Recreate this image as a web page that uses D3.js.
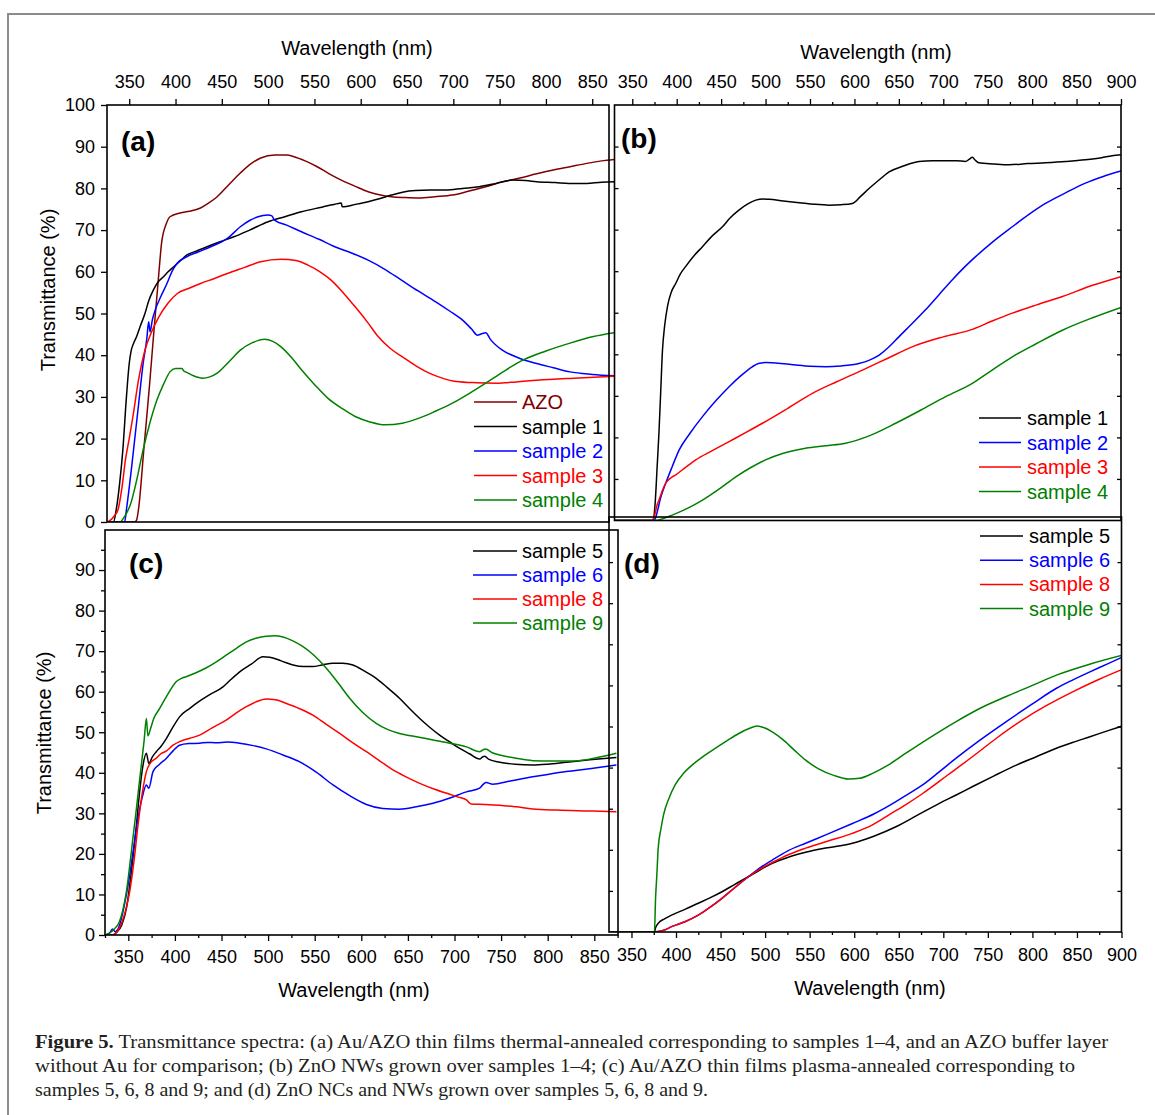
<!DOCTYPE html>
<html>
<head>
<meta charset="utf-8">
<script src="https://cdn.jsdelivr.net/npm/d3@7"></script>
<style>
  body { margin: 0; background: #fff; }
  svg text { font-family: "Liberation Sans", Arial, sans-serif; fill: #000; }
  .tick text { font-size: 18px; }
  .tick line { stroke: #000; stroke-width: 1.3; }
  .frame { fill: none; stroke: #000; stroke-width: 1.6; }
  .series { fill: none; stroke-width: 1.5; stroke-linejoin: round; }
  .axis-title { font-size: 20px; }
  .legend-text { font-size: 20px; }
  .panel-label { font-size: 28px; font-weight: bold; }
  svg text.caption { font-family: "Liberation Serif", "DejaVu Serif", serif; font-size: 18px; fill: #231f20; }
</style>
</head>
<body>
<svg id="fig" width="1155" height="1115"></svg>
<script>
// --- Figure 5: transmittance spectra, four panels (a)-(d) ---

// tick labels
const nmTicksA = [350, 400, 450, 500, 550, 600, 650, 700, 750, 800, 850];
const nmTicksB = [350, 400, 450, 500, 550, 600, 650, 700, 750, 800, 850, 900];
const nmMinorB = [375, 425, 475, 525, 575, 625, 675, 725, 775, 825, 875];
const nmMinorC = [325, 375, 425, 475, 525, 575, 625, 675, 725, 775, 825, 875];
const tTicksA = [0, 10, 20, 30, 40, 50, 60, 70, 80, 90, 100];
const tTicksC = [0, 10, 20, 30, 40, 50, 60, 70, 80, 90];
const tMinorC = [5, 15, 25, 35, 45, 55, 65, 75, 85, 95];
const tInner = [10, 20, 30, 40, 50, 60, 70, 80, 90];

// (a) Au/AZO thermal-annealed, [wavelength nm, T %]
const azoA = [[326,0],[356,0],[358,0.5],[360,3],[366,18],[372,33],[376,44],[381,57],[385,67],[390,71.5],[394,73.2],[405,74.1],[415,74.5],[427,75.3],[436,76.5],[445,78],[458,81],[470,83.7],[482,86],[492,87.3],[507,88],[520,88],[528,87.6],[540,86.6],[553,85.2],[566,83.5],[579,82],[594,80.5],[608,79.2],[620,78.5],[633,78],[648,77.8],[663,77.7],[680,78],[699,78.4],[716,79.3],[735,80.4],[752,81.5],[772,82.5],[790,83.5],[808,84.4],[826,85.2],[844,86],[860,86.6],[876,87]];
const sample1A = [[326,0],[333,0],[336,3],[340,10],[343,17],[347,30],[350,38],[352,41],[355,43],[358,44.5],[362,47],[367,50],[371,53],[376,55.6],[381,57.5],[387,58.8],[392,60],[398,61.2],[405,62.6],[412,64],[423,65],[434,66],[448,67.2],[463,68.4],[480,70],[500,72],[518,73.2],[536,74.4],[558,75.5],[576,76.4],[579,76.5],[580,75.6],[595,76.2],[608,76.8],[620,77.5],[633,78.4],[645,79.1],[659,79.5],[675,79.6],[692,79.6],[710,80],[728,80.4],[746,81.2],[764,82],[778,81.9],[790,81.6],[810,81.4],[825,81.2],[844,81.2],[860,81.5],[880,81.6]];
const sample2A = [[326,0],[345,0],[347,3],[352,12],[356,20],[360,28],[365,38],[369,44],[371,48],[372.5,45.6],[375,48.5],[378,50.8],[384,54],[391,57.3],[396,60],[402,62.1],[412,63.6],[425,64.8],[438,66],[456,68],[470,70.8],[480,72.3],[489,73.2],[500,73.6],[504,73.4],[507,72.4],[520,71.2],[536,69.6],[555,67.8],[572,66],[590,64.5],[608,62.8],[626,60.6],[644,58],[662,55.4],[681,52.8],[696,50.6],[710,48.4],[720,46.2],[726,44.8],[730,45.1],[735,45.4],[740,43.8],[753,41.2],[770,39.4],[790,38],[808,37],[826,36],[850,35.4],[880,35]];
const sample3A = [[326,0],[330,0.5],[334,1.5],[338,3],[342,8],[346,15],[350,20],[354,25.3],[360,34],[367,41.2],[374,45.5],[382,49.2],[392,52.5],[402,54.8],[414,56],[427,57.2],[442,58.4],[456,59.6],[474,61],[492,62.4],[514,63],[530,62.7],[543,61.6],[556,60],[568,58],[581,55],[594,51.6],[607,48],[619,44.4],[632,41.6],[645,39.6],[660,37.4],[674,35.7],[688,34.5],[703,33.7],[725,33.4],[746,33.3],[768,33.6],[790,34],[830,34.5],[880,35]];
const sample4A = [[326,0],[340,0],[344,1],[348,2.5],[351,4],[358,10],[365,17.3],[372,23.5],[380,29.3],[387,33],[394,36],[400,36.8],[407,36.8],[409,36.2],[411,36],[420,35],[429,34.5],[437,34.8],[445,35.7],[458,38.5],[470,41.2],[483,43],[496,43.8],[505,43.3],[514,42],[525,39.5],[536,36.5],[550,33],[565,29.6],[580,27.2],[594,25.3],[610,24],[626,23.3],[645,23.7],[663,24.9],[680,26.5],[699,28.5],[717,30.8],[735,33.3],[755,36.2],[775,38.8],[800,41],[826,42.9],[850,44.4],[880,45.6]];

// (b) ZnO NWs over samples 1-4
const sample1B = [[330,0],[372.7,0],[374,0.5],[376,5],[378,13],[380,21],[382,31],[384,41],[386.5,47],[389.6,51.5],[394,55],[399,57.1],[404,59.3],[410,61.1],[419,63.6],[429,65.9],[440,68.5],[451.5,70.7],[460,72.8],[470,74.7],[480,76.2],[489,77.1],[497,77.4],[504,77.3],[520,76.9],[538,76.5],[555,76.1],[571.5,75.9],[585,76],[597.7,76.3],[607,78],[616.5,79.9],[628,82],[639,83.9],[655,85.3],[672.7,86.4],[688,86.6],[702.7,86.6],[715,86.6],[725,86.4],[729,86.9],[732.7,87.4],[736,86.7],[740,86.1],[757,85.8],[774,85.6],[795,85.9],[815,86.1],[838,86.4],[860,86.8],[878,87.3],[890,87.8],[900,88]];
const sample2B = [[330,0],[374,0],[376,0.5],[378,2],[382,5.5],[387.7,9],[395,13],[402.8,17],[415,21],[429,25],[444,28.8],[459,32.2],[472,34.8],[485,37],[492,37.8],[500,38],[517,37.8],[534,37.4],[550,37.1],[567.7,37],[585,37.2],[605,37.8],[617,38.6],[627.8,39.8],[639,41.8],[650,44.2],[665,47.4],[680,50.7],[695,54.3],[710,57.9],[723,60.8],[736.4,63.5],[757,67.3],[777.7,70.7],[796,73.6],[815,76.3],[838,78.9],[860,81.2],[880,82.8],[900,84.1]];
const sample3B = [[330,0],[372,0],[374,0.5],[376,2],[378,3.8],[380,4.9],[384,7.3],[387.7,9],[393,10.2],[399,11],[410,12.8],[421.5,14.6],[440,16.8],[459,19],[478,21.2],[496.5,23.4],[525,27],[552.7,30.6],[580,33.4],[609,36.2],[637,39],[665,41.8],[700,44.2],[732.7,46],[755,48],[777.7,49.9],[805,51.9],[834,53.9],[868,56.6],[900,58.7]];
const sample4B = [[330,0],[376,0],[385,0.5],[395,1.3],[412,2.9],[429,4.9],[448,7.6],[466.5,10.5],[483,12.7],[500,14.6],[520,16.2],[545,17.4],[568,18],[590,18.6],[618,20.5],[646.4,23.4],[675,26.6],[702.7,29.8],[732.7,33],[755,36.2],[777.7,39.4],[805,42.6],[834,45.8],[868,48.8],[900,51.3]];

// (c) Au/AZO plasma-annealed
const sample5C = [[325,0],[333.6,0],[338,0.8],[343,2.5],[348,6.6],[353,15],[358.7,27.1],[362,35],[365.8,41.9],[369.4,44.8],[372,42.3],[376,44],[380,45.2],[385,46.5],[391,48.5],[398,51.3],[405,53.8],[416,55.9],[426,57.6],[437,59.2],[451.6,61.2],[460,63],[469.5,64.9],[482,66.8],[494.5,68.6],[501.7,68.5],[514,67.6],[526.7,66.6],[538,66.2],[548,66.2],[558,66.6],[569.6,67],[580,67],[591,66.6],[604,65],[616,63.3],[628,61],[641,58.4],[652,55.8],[662.7,53.4],[673,51.3],[684,49.3],[695,47.6],[705.6,46],[716,44.7],[727,43.4],[730,43.9],[732.4,44.1],[737,43.3],[748.5,42.6],[765,42.1],[784,41.9],[800,42.1],[820,42.6],[845,43.2],[873.7,43.8]];
const sample6C = [[325,0],[330,0.5],[333,1.5],[336,0.8],[340,2],[345,6.5],[351.5,14.8],[356,22],[360.4,28.8],[365,34],[369.4,37],[372,36.2],[376.5,40.3],[383,42],[391,43.6],[398,45.4],[405,46.8],[415,47.2],[426.6,47.3],[435,47.5],[444.5,47.4],[456,47.6],[469.5,47.3],[484,46.7],[498,45.9],[516,44.4],[534,42.7],[552,40.1],[569.6,37],[588,34.3],[605.5,32.2],[623,31.2],[641,31],[659,31.6],[677,32.5],[695,33.8],[712.8,35.3],[727,36.2],[731,37.2],[734,37.6],[741,37.2],[760,38],[784,39],[800,39.6],[820,40.3],[845,41],[873.7,41.9]];
const sample8C = [[325,0],[333,0],[338,0.8],[343,3],[347,6],[351.5,10.7],[356,18],[360.4,27.1],[365,35],[369.4,40.3],[374,42.5],[380,43.6],[385,44.7],[391,45.4],[398,46.8],[405,47.7],[416,48.5],[426.6,49.3],[440,51.1],[455,53],[466,54.8],[476.7,56.3],[487,57.5],[498,58.2],[508,58],[519.6,57.1],[534,55.8],[548,54.2],[562,52],[576.8,49.7],[591,47.4],[605.5,45.2],[620,42.9],[634,40.7],[648,39],[662.7,37.4],[678,36],[694.8,34.7],[704,34],[712.8,33.3],[716,32.6],[718,32.3],[733,32.2],[748.5,32],[766,31.6],[784,31.1],[810,30.8],[840,30.6],[873.7,30.4]];
const sample9C = [[325,0],[330,0.5],[335,1.5],[340,3],[344,6],[348,10.7],[353,20],[358.7,31.2],[363,40],[367,48],[369.4,53.4],[371,49.1],[374,51],[377,53.2],[383.7,55.9],[392,59.2],[401.6,62.5],[407,63.3],[412,63.7],[422,64.6],[433.8,65.9],[444,67.3],[455,69],[466,70.7],[476.7,72.3],[487,73.2],[498,73.7],[507,73.8],[516,73.5],[526,72.6],[537.5,71.1],[550,68.8],[562.5,65.8],[575,62.2],[587.5,58.4],[601,55],[616,52.2],[628,50.7],[641,49.7],[659,48.9],[677,48.1],[695,47.3],[712.8,46.4],[727,45.2],[730,45.6],[733.5,45.9],[740,45],[748.5,44.4],[766,43.6],[784,43],[805,42.9],[827,42.9],[850,43.6],[873.7,44.8]];

// (d) ZnO NCs and NWs over samples 5, 6, 8, 9
const sample5D = [[325,0],[375.8,0],[377,1],[380,2.1],[387,3.2],[395,4.1],[410,5.5],[425,7],[438,8.3],[451.6,9.8],[466,11.6],[481.6,13.5],[495,15.2],[508,16.7],[526,18.2],[545.5,19.4],[570,20.5],[598,21.6],[622,23.3],[646.8,25.6],[670,28.3],[695.6,31.3],[715,33.4],[733,35.4],[757,38],[782,40.6],[805,42.7],[827,44.7],[845,46.1],[864.6,47.5],[885,49],[902,50.2]];
const sample6D = [[325,0],[375.8,0],[380,0.1],[387,0.5],[395,1.3],[410,2.5],[425,4.1],[438,6],[451.6,8.2],[466,10.8],[481.6,13.5],[495,15.7],[508,17.5],[526,19.8],[545.5,21.6],[570,23.8],[598,26.4],[622,28.7],[646.8,31.7],[660,33.5],[676.8,35.8],[695,38.9],[714.4,42.3],[740,46.5],[770.7,51.2],[800,55.5],[827,59.3],[845,61.3],[864.6,63.3],[885,65.3],[902,67]];
const sample8D = [[325,0],[375.8,0],[380,0.1],[387,0.5],[395,1.3],[410,2.5],[425,4.1],[438,6],[451.6,8.2],[466,10.8],[481.6,13.5],[495,15.4],[508,16.9],[526,18.8],[545.5,20.4],[570,22.1],[598,24],[620,26],[639,28.5],[658,31],[676.8,33.7],[705,38.2],[733,42.7],[760,47.2],[789,51.6],[815,55],[845.7,58.5],[875,61.5],[902,64]];
const sample9D = [[325,0],[375.8,0],[377,8],[378.5,14],[380,20.4],[383,25],[386,28.5],[392,32.5],[399,35.8],[408,38.5],[418,40.6],[431,42.8],[444,44.7],[457,46.5],[470.4,48.3],[482,49.5],[491,50.1],[499,49.7],[508,48.7],[520,46.8],[533,44.2],[545.5,41.8],[560,39.7],[577,38.1],[594,37.2],[606,37.4],[620.6,38.6],[638,40.6],[658,43.5],[685,47.3],[714.4,51.2],[742,54.5],[770.7,57.3],[800,60],[827,62.5],[865,65.2],[902,67.4]];

const captionLines = [
  ['Figure 5.', ' Transmittance spectra: (a) Au/AZO thin films thermal-annealed corresponding to samples 1\u20134, and an AZO buffer layer'],
  ['', 'without Au for comparison; (b) ZnO NWs grown over samples 1\u20134; (c) Au/AZO thin films plasma-annealed corresponding to'],
  ['', 'samples 5, 6, 8 and 9; and (d) ZnO NCs and NWs grown over samples 5, 6, 8 and 9.']
];

const COLORS = { azo: '#800000', black: '#000000', blue: '#0000ff', red: '#ff0000', green: '#008000' };

const svg = d3.select('#fig');

// page border (journal figure box)
svg.append('path')
  .attr('d', 'M8,1115 V14 H1155')
  .attr('fill', 'none').attr('stroke', '#8c8c8c').attr('stroke-width', 2);

function addAxis(g, axis, transform) {
  const a = g.append('g').attr('transform', transform).call(axis);
  a.select('.domain').remove();
  return a;
}

function drawPanel(p) {
  const x = d3.scaleLinear().domain(p.xDomain).range(p.xRange);
  const y = d3.scaleLinear().domain([0, 100]).range(p.yRange);
  const g = svg.append('g');

  const clipId = 'clip-' + p.name;
  svg.append('clipPath').attr('id', clipId).append('rect')
    .attr('x', p.clipX[0]).attr('y', p.frame.y0)
    .attr('width', p.clipX[1] - p.clipX[0])
    .attr('height', p.frame.y1 - p.frame.y0);

  const lineGen = d3.line()
    .curve(d3.curveMonotoneX)
    .x(d => x(d[0]))
    .y(d => y(d[1]));

  g.append('g').attr('clip-path', `url(#${clipId})`)
    .selectAll('path')
    .data(p.series)
    .join('path')
    .attr('class', 'series')
    .attr('stroke', s => s.color)
    .attr('d', s => lineGen(s.data));

  g.append('rect')
    .attr('class', 'frame')
    .attr('x', p.frame.x0).attr('y', p.frame.y0)
    .attr('width', p.frame.x1 - p.frame.x0)
    .attr('height', p.frame.y1 - p.frame.y0);

  p.axes(g, x, y);

  // legend
  const leg = g.append('g');
  p.series.forEach((s, i) => {
    const yy = p.legend.y + i * p.legend.dy;
    leg.append('line')
      .attr('x1', p.legend.x1).attr('x2', p.legend.x2)
      .attr('y1', yy).attr('y2', yy)
      .attr('stroke', s.color).attr('stroke-width', 1.5);
    leg.append('text')
      .attr('class', 'legend-text')
      .attr('x', p.legend.tx).attr('y', yy).attr('dy', '0.35em')
      .style('fill', s.color)
      .text(s.name);
  });

  g.append('text')
    .attr('class', 'panel-label')
    .attr('x', p.label[0]).attr('y', p.label[1])
    .text(p.labelText);
}

// (a)
drawPanel({
  name: 'a', labelText: '(a)', label: [121, 151],
  xDomain: [326, 872], xRange: [107, 612.6], yRange: [522, 105],
  frame: { x0: 107, x1: 609, y0: 105, y1: 522 }, clipX: [107, 614],
  series: [
    { name: 'AZO', data: azoA, color: COLORS.azo },
    { name: 'sample 1', data: sample1A, color: COLORS.black },
    { name: 'sample 2', data: sample2A, color: COLORS.blue },
    { name: 'sample 3', data: sample3A, color: COLORS.red },
    { name: 'sample 4', data: sample4A, color: COLORS.green }
  ],
  legend: { x1: 474, x2: 517, tx: 522, y: 402, dy: 24.5 },
  axes: (g, x, y) => {
    addAxis(g, d3.axisLeft(y).tickValues(tTicksA).tickSize(6).tickPadding(6), 'translate(107,0)');
    addAxis(g, d3.axisTop(x).tickValues(nmTicksA).tickSize(6).tickPadding(11), 'translate(0,105)');
    g.append('text').attr('class', 'axis-title')
      .attr('x', 357).attr('y', 55).attr('text-anchor', 'middle')
      .text('Wavelength (nm)');
    g.append('text').attr('class', 'axis-title')
      .attr('transform', 'translate(55,290) rotate(-90)')
      .attr('text-anchor', 'middle')
      .text('Transmittance (%)');
  }
});

// (b)
drawPanel({
  name: 'b', labelText: '(b)', label: [621, 148],
  xDomain: [330, 900], xRange: [614.5, 1121], yRange: [520.5, 105],
  frame: { x0: 614.5, x1: 1121, y0: 105, y1: 520.5 }, clipX: [614.5, 1121],
  series: [
    { name: 'sample 1', data: sample1B, color: COLORS.black },
    { name: 'sample 2', data: sample2B, color: COLORS.blue },
    { name: 'sample 3', data: sample3B, color: COLORS.red },
    { name: 'sample 4', data: sample4B, color: COLORS.green }
  ],
  legend: { x1: 979, x2: 1021, tx: 1027, y: 418, dy: 24.5 },
  axes: (g, x, y) => {
    addAxis(g, d3.axisTop(x).tickValues(nmTicksB).tickSize(6).tickPadding(11), 'translate(0,105)');
    addAxis(g, d3.axisTop(x).tickValues(nmMinorB).tickSize(3).tickFormat(''), 'translate(0,105)');
    addAxis(g, d3.axisRight(y).tickValues(tInner).tickSize(4).tickFormat(''), 'translate(614.5,0)');
    addAxis(g, d3.axisLeft(y).tickValues(tInner).tickSize(4).tickFormat(''), 'translate(1121,0)');
    g.append('text').attr('class', 'axis-title')
      .attr('x', 876).attr('y', 59).attr('text-anchor', 'middle')
      .text('Wavelength (nm)');
  }
});

// (c)
drawPanel({
  name: 'c', labelText: '(c)', label: [129, 573],
  xDomain: [325, 875], xRange: [105, 617.6], yRange: [935, 529.5],
  frame: { x0: 105, x1: 618, y0: 530, y1: 935 }, clipX: [105, 618],
  series: [
    { name: 'sample 5', data: sample5C, color: COLORS.black },
    { name: 'sample 6', data: sample6C, color: COLORS.blue },
    { name: 'sample 8', data: sample8C, color: COLORS.red },
    { name: 'sample 9', data: sample9C, color: COLORS.green }
  ],
  legend: { x1: 473, x2: 517, tx: 522, y: 551, dy: 24 },
  axes: (g, x, y) => {
    addAxis(g, d3.axisLeft(y).tickValues(tTicksC).tickSize(6).tickPadding(4), 'translate(105,0)');
    addAxis(g, d3.axisLeft(y).tickValues(tMinorC).tickSize(4).tickFormat(''), 'translate(105,0)');
    addAxis(g, d3.axisBottom(x).tickValues(nmTicksA).tickSize(6).tickPadding(9), 'translate(0,935)');
    addAxis(g, d3.axisBottom(x).tickValues(nmMinorC).tickSize(3).tickFormat(''), 'translate(0,935)');
    g.append('text').attr('class', 'axis-title')
      .attr('x', 354).attr('y', 997).attr('text-anchor', 'middle')
      .text('Wavelength (nm)');
    g.append('text').attr('class', 'axis-title')
      .attr('transform', 'translate(51,733) rotate(-90)')
      .attr('text-anchor', 'middle')
      .text('Transmittance (%)');
  }
});

// (d)
drawPanel({
  name: 'd', labelText: '(d)', label: [624, 573],
  xDomain: [325, 900], xRange: [609.2, 1121.5], yRange: [932, 521],
  frame: { x0: 609, x1: 1121.5, y0: 517, y1: 932 }, clipX: [609, 1121.5],
  series: [
    { name: 'sample 5', data: sample5D, color: COLORS.black },
    { name: 'sample 6', data: sample6D, color: COLORS.blue },
    { name: 'sample 8', data: sample8D, color: COLORS.red },
    { name: 'sample 9', data: sample9D, color: COLORS.green }
  ],
  legend: { x1: 980, x2: 1023, tx: 1029, y: 536, dy: 24.2 },
  axes: (g, x, y) => {
    addAxis(g, d3.axisBottom(x).tickValues(nmTicksB).tickSize(6).tickPadding(10), 'translate(0,932)');
    addAxis(g, d3.axisBottom(x).tickValues(nmMinorB).tickSize(3).tickFormat(''), 'translate(0,932)');
    addAxis(g, d3.axisRight(y).tickValues(tInner).tickSize(4).tickFormat(''), 'translate(609,0)');
    addAxis(g, d3.axisLeft(y).tickValues(tInner).tickSize(4).tickFormat(''), 'translate(1121.5,0)');
    g.append('text').attr('class', 'axis-title')
      .attr('x', 870).attr('y', 995).attr('text-anchor', 'middle')
      .text('Wavelength (nm)');
  }
});

// caption
const capWidths = [1073, 1040, 673];
captionLines.forEach((ln, i) => {
  const t = svg.append('text')
    .attr('class', 'caption')
    .attr('x', 35).attr('y', 1048 + i * 24)
    .attr('textLength', capWidths[i])
    .attr('lengthAdjust', 'spacingAndGlyphs');
  if (ln[0]) t.append('tspan').attr('font-weight', 'bold').text(ln[0]);
  t.append('tspan').text(ln[1]);
});
</script>
</body>
</html>
